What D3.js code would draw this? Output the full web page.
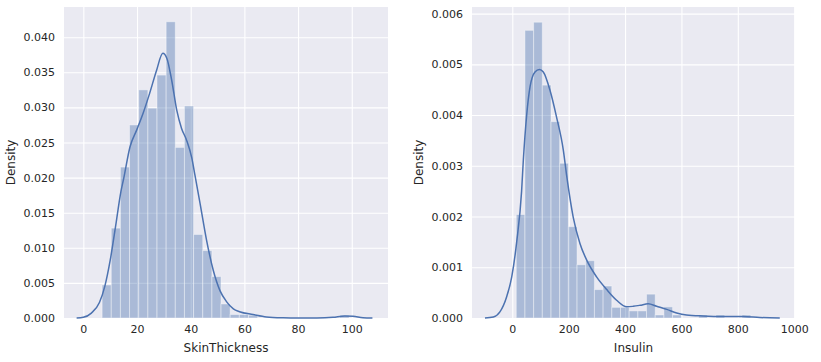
<!DOCTYPE html>
<html>
<head>
<meta charset="utf-8">
<script src="https://cdn.jsdelivr.net/npm/d3@7"></script>
<style>
  body { margin: 0; background: #fff; }
  svg text { font-family: "DejaVu Sans", sans-serif; fill: #262626; }
</style>
</head>
<body>
<svg id="chart"></svg>
<script>
// SkinThickness histogram (27 bins from 7 to 99) and KDE
const skinBinStart = 7;
const skinBinEnd = 99;
const skinDensity = [0.0047, 0.0128, 0.0215, 0.0275, 0.0325, 0.0299, 0.0346, 0.0422, 0.0243,
  0.0302, 0.0119, 0.0096, 0.0059, 0.0020, 0.0005, 0.0005, 0.0004, 0, 0, 0, 0, 0, 0, 0, 0, 0, 0.0004];
const skinKdeX = [-2.5, 0, 3, 6, 8, 10, 12, 14, 15, 17.4, 19.9, 22.3, 24.7, 27.3, 29.6, 31.1, 32.9,
  34.8, 36.6, 38.5, 40.4, 41.6, 43.5, 45.9, 48.4, 50.9, 53.4, 55.9, 58.2, 63.2, 68.2, 74.4, 80, 87,
  93, 97.4, 100.5, 104.2, 107.7];
const skinKdeY = [0, 0.0001, 0.0007, 0.0022, 0.0045, 0.0082, 0.013, 0.018, 0.0198, 0.0244, 0.0268,
  0.0292, 0.032, 0.0353, 0.0377, 0.037, 0.0339, 0.0296, 0.027, 0.0253, 0.0228, 0.0203, 0.0163,
  0.0111, 0.0068, 0.0039, 0.0023, 0.0013, 0.0009, 0.0005, 0.00015, 0.00003, 0, 0, 0.0001, 0.0003,
  0.00025, 0.00005, 0];
const skinXTicks = [0, 20, 40, 60, 80, 100];
const skinYTicks = [0, 0.005, 0.01, 0.015, 0.02, 0.025, 0.03, 0.035, 0.04];

// Insulin histogram (27 bins from 14 to 846) and KDE
const insBinStart = 14;
const insBinEnd = 846;
const insDensity = [0.00204, 0.00567, 0.00583, 0.00459, 0.00387, 0.00305, 0.0018, 0.00105, 0.00113,
  0.00056, 0.00063, 0.00021, 0.00021, 0.00014, 0.00014, 0.00047, 0.00006, 0.00022, 0.00006, 0, 0,
  0.00006, 0, 0.00006, 0, 0, 0.00006];
const insKdeX = [-97, -67, -44, -20, -2, 15.6, 33, 39, 51, 63, 80.5, 96, 110, 133.7, 157, 181, 193,
  216, 240, 264, 299, 335, 370, 406, 429, 453, 482, 512, 548, 583, 618, 677, 748, 819, 878, 949];
const insKdeY = [0, 0.00002, 0.00012, 0.00042, 0.00081, 0.0015, 0.0025, 0.0031, 0.004, 0.00456,
  0.00485, 0.0049, 0.00485, 0.00449, 0.00396, 0.00331, 0.0028, 0.00199, 0.00147, 0.00114, 0.00081,
  0.00056, 0.00035, 0.00022, 0.00023, 0.00025, 0.00028, 0.00023, 0.00017, 0.0001, 0.00006, 0.00004,
  0.00003, 0.00003, 0.00001, 0];
const insXTicks = [0, 200, 400, 600, 800, 1000];
const insYTicks = [0, 0.001, 0.002, 0.003, 0.004, 0.005, 0.006];

const width = 821;
const height = 362;
const color = "#4C72B0";

const svg = d3.select("#chart")
  .attr("width", width)
  .attr("height", height);

function drawPanel(p) {
  const x = d3.scaleLinear().domain(p.xDomain).range([p.left, p.right]);
  const y = d3.scaleLinear().domain(p.yDomain).range([p.bottom, p.top]);
  const g = svg.append("g");

  g.append("rect")
    .attr("x", p.left)
    .attr("y", p.top)
    .attr("width", p.right - p.left)
    .attr("height", p.bottom - p.top)
    .attr("fill", "#EAEAF2");

  // grid
  const xAxis = d3.axisBottom(x).tickValues(p.xTicks).tickSize(-(p.bottom - p.top)).tickPadding(7)
    .tickFormat(d3.format("d"));
  const yAxis = d3.axisLeft(y).tickValues(p.yTicks).tickSize(-(p.right - p.left)).tickPadding(9)
    .tickFormat(d3.format(".3f"));

  const gx = g.append("g")
    .attr("transform", `translate(0, ${p.bottom})`)
    .call(xAxis);
  const gy = g.append("g")
    .attr("transform", `translate(${p.left}, 0)`)
    .call(yAxis);

  [gx, gy].forEach(a => {
    a.select(".domain").remove();
    a.selectAll(".tick line").attr("stroke", "#fff").attr("stroke-width", 1.1);
    a.selectAll(".tick text").style("font-size", "11px").attr("fill", "#262626")
      .style("font-family", "'DejaVu Sans', sans-serif");
  });

  // histogram bars
  const n = p.density.length;
  const bw = (p.binEnd - p.binStart) / n;
  g.append("g").selectAll("rect")
    .data(p.density)
    .enter().append("rect")
    .attr("x", (d, i) => x(p.binStart + i * bw))
    .attr("y", d => y(d))
    .attr("width", (d, i) => x(p.binStart + (i + 1) * bw) - x(p.binStart + i * bw))
    .attr("height", d => y(0) - y(d))
    .attr("fill", color)
    .attr("fill-opacity", 0.4)
    .attr("stroke", "#fff")
    .attr("stroke-opacity", d => d > 0 ? 0.4 : 0)
    .attr("stroke-width", 1);

  // kde line
  const pts = p.kdeX.map((v, i) => [v, p.kdeY[i]]);
  const line = d3.line()
    .x(d => x(d[0]))
    .y(d => y(d[1]))
    .curve(d3.curveMonotoneX);
  g.append("path")
    .datum(pts)
    .attr("d", line)
    .attr("fill", "none")
    .attr("stroke", color)
    .attr("stroke-width", 1.5);

  // labels
  g.append("text")
    .attr("x", (p.left + p.right) / 2)
    .attr("y", 352)
    .attr("text-anchor", "middle")
    .style("font-size", "12px")
    .text(p.xLabel);

  g.append("text")
    .attr("transform", `translate(${p.yLabelX}, ${(p.top + p.bottom) / 2}) rotate(-90)`)
    .attr("text-anchor", "middle")
    .style("font-size", "12px")
    .text("Density");
}

drawPanel({
  left: 64, right: 388, top: 7, bottom: 318,
  xDomain: [-7.2, 113.5], yDomain: [0, 0.0443],
  xTicks: skinXTicks, yTicks: skinYTicks,
  binStart: skinBinStart, binEnd: skinBinEnd, density: skinDensity,
  kdeX: skinKdeX, kdeY: skinKdeY,
  xLabel: "SkinThickness", yLabelX: 15
});

drawPanel({
  left: 472, right: 795, top: 7, bottom: 318,
  xDomain: [-143, 1003], yDomain: [0, 0.00613],
  xTicks: insXTicks, yTicks: insYTicks,
  binStart: insBinStart, binEnd: insBinEnd, density: insDensity,
  kdeX: insKdeX, kdeY: insKdeY,
  xLabel: "Insulin", yLabelX: 423
});
</script>
</body>
</html>
